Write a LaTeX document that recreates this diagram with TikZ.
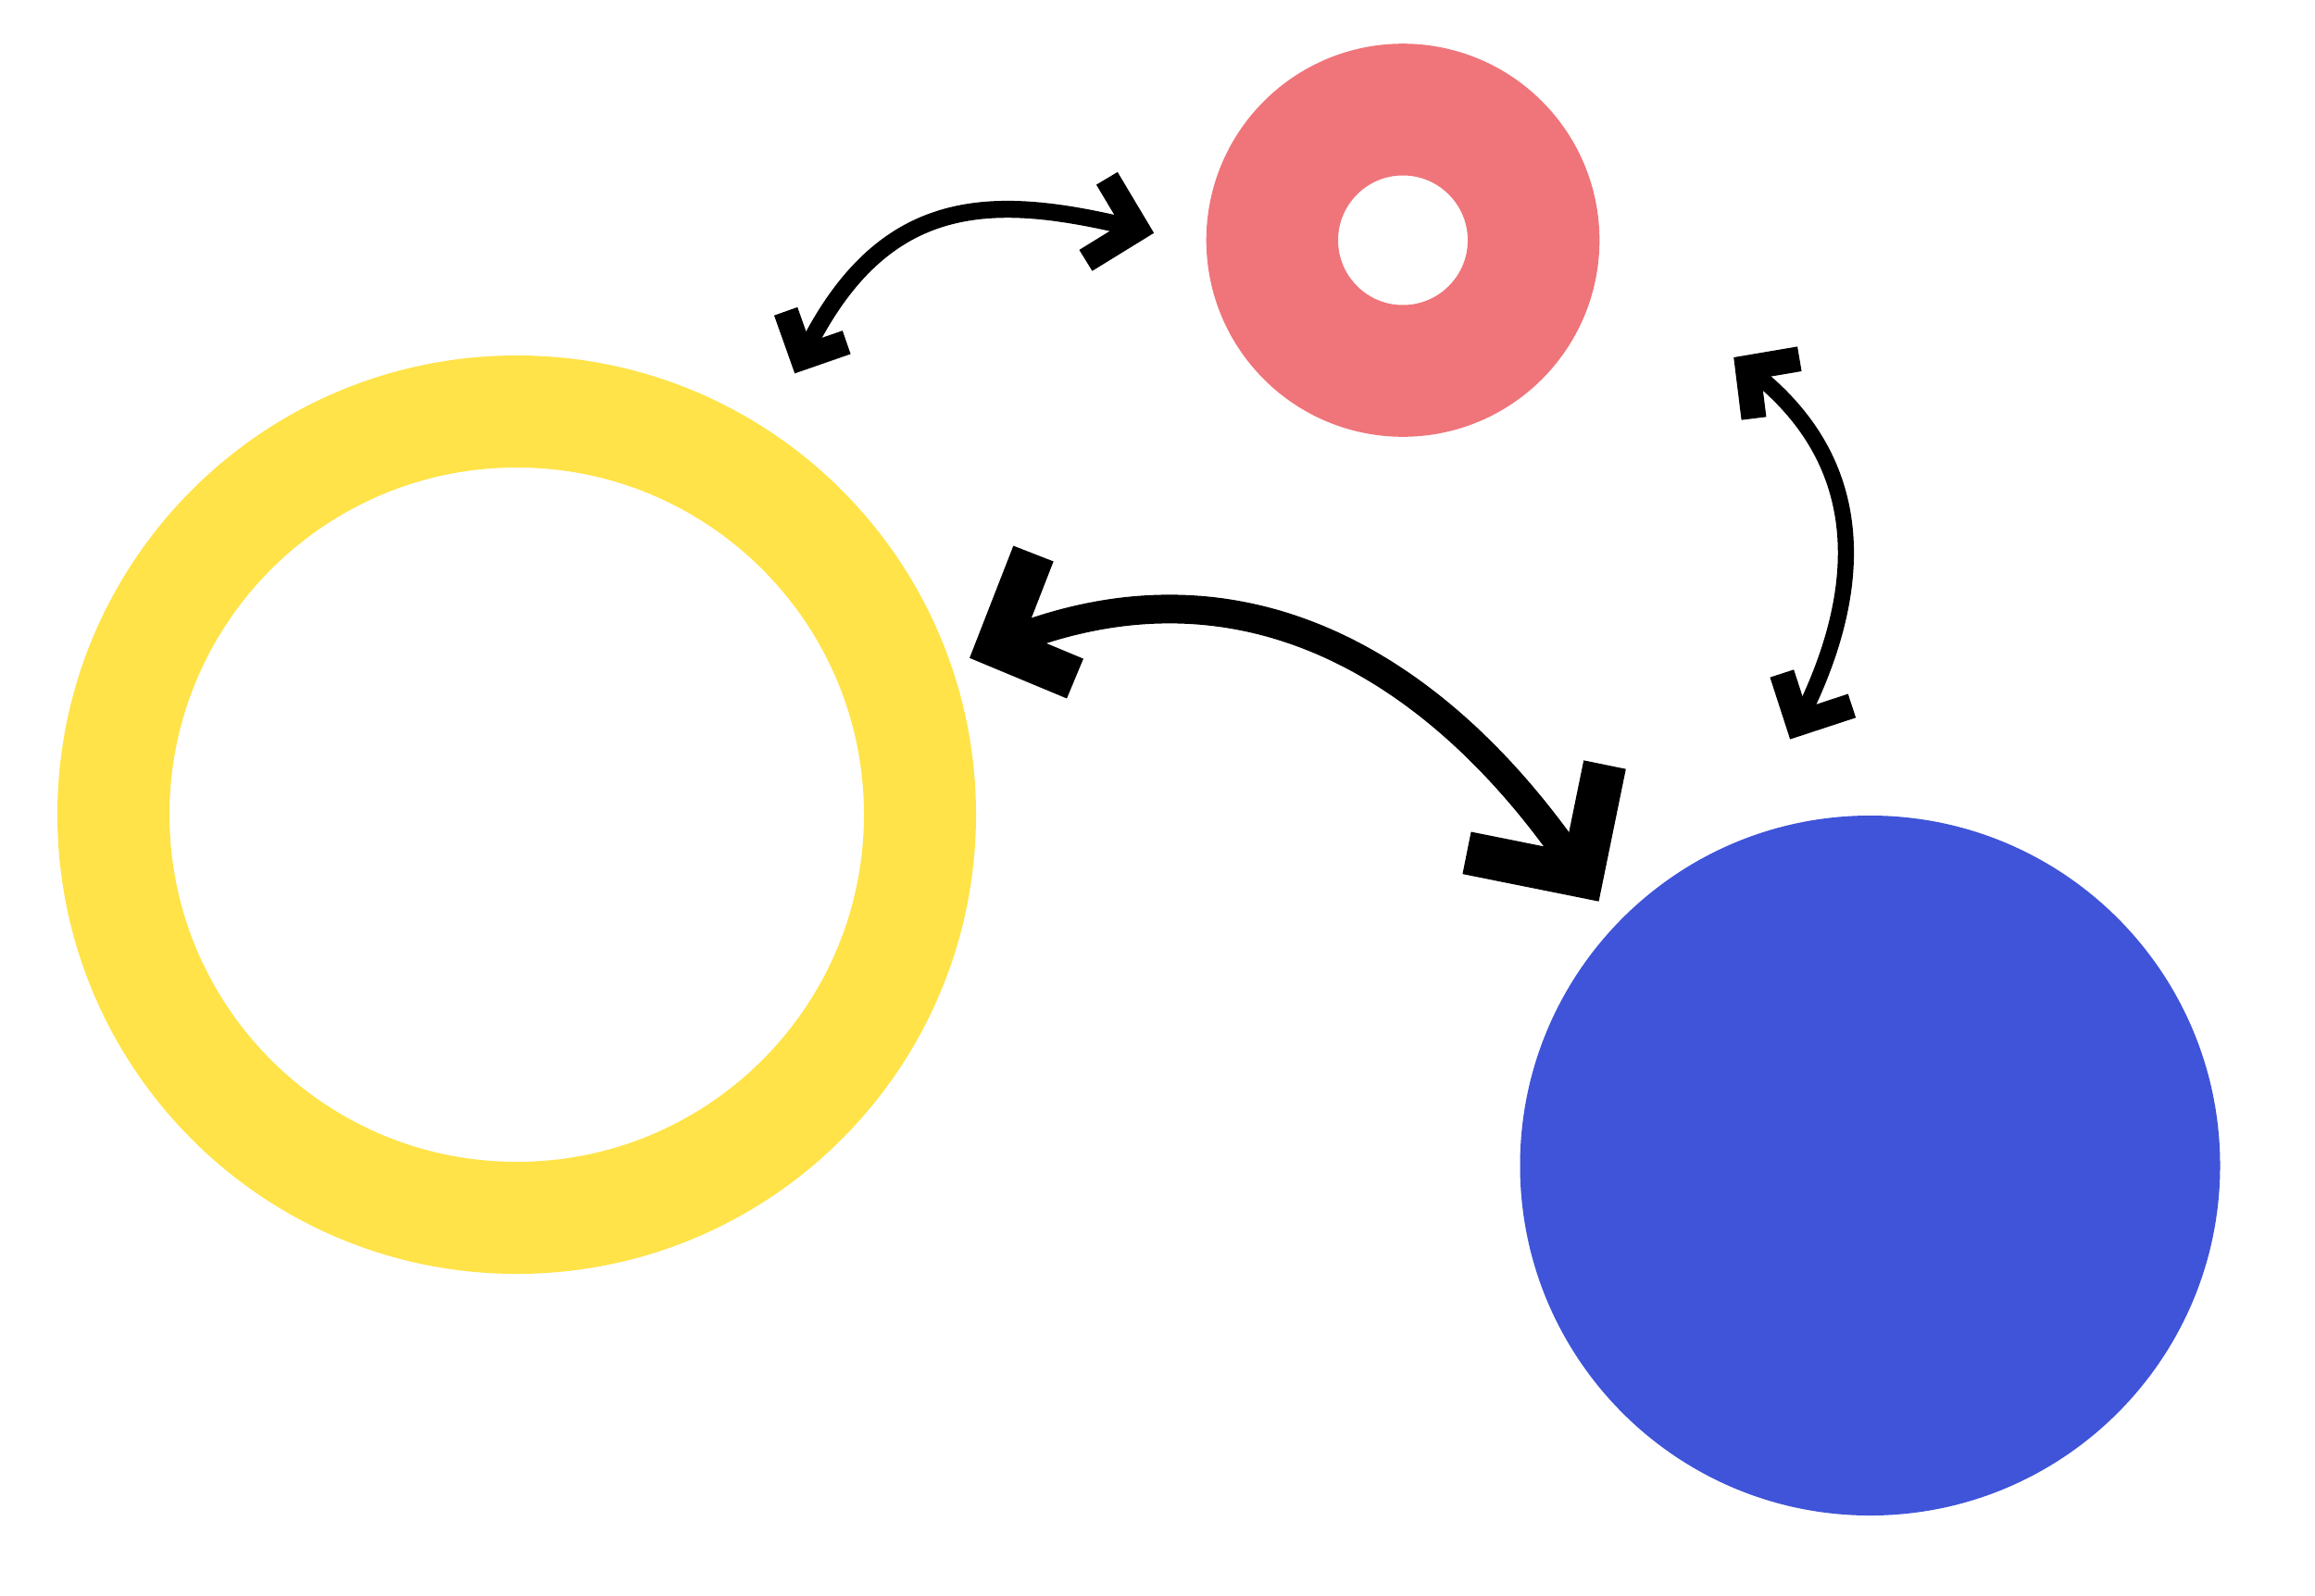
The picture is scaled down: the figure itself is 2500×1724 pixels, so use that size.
\documentclass[tikz,border=0pt]{standalone}
\definecolor{ringyellow}{RGB}{255,227,72}
\definecolor{ringpink}{RGB}{239,117,122}
\definecolor{diskblue}{RGB}{63,84,216}
\begin{document}
\begin{tikzpicture}[x=0.2mm,y=-0.2mm,
  ring/.style={circle,inner sep=0pt,outer sep=0pt},
  shaftline/.style={draw=black,line cap=butt,line join=round},
  barb/.style={draw=black,line cap=butt,line join=miter}]
\useasboundingbox (0,0) rectangle (2500,1724);
% circles
\node[ring,draw=ringyellow,line width=24.2mm,minimum size=174.2mm] (yellow) at (558,880) {};
\node[ring,draw=ringpink,line width=28.46mm,minimum size=56.46mm] (pink) at (1515,259.5) {};
\node[ring,fill=diskblue,minimum size=151.2mm] (blue) at (2019.5,1259) {};
% arrow yellow <-> pink
\coordinate (a1s) at (866.4,386.4);
\coordinate (a1sa) at (848.6,336.3);
\coordinate (a1sb) at (914.2,369.8);
\coordinate (a1e) at (1227.9,247.2);
\coordinate (a1ea) at (1195.4,192.7);
\coordinate (a1eb) at (1172.5,281.3);
\draw[shaftline,line width=3.66mm] (a1s) .. controls (952.4,205.6) and (1072.6,208.9) .. (a1e);
\draw[barb,line width=5.34mm] (a1sa) -- (a1s) -- (a1sb);
\draw[barb,line width=5.34mm] (a1ea) -- (a1e) -- (a1eb);
% arrow yellow <-> blue
\coordinate (a2s) at (1077,698);
\coordinate (a2sa) at (1116,598);
\coordinate (a2sb) at (1161,733);
\coordinate (a2e) at (1708.4,946.3);
\coordinate (a2ea) at (1733,826);
\coordinate (a2eb) at (1584,921.3);
\draw[shaftline,line width=6.2mm] (a2s) .. controls (1353,581) and (1570,737) .. (a2e);
\draw[barb,line width=9.3mm] (a2sa) -- (a2s) -- (a2sb);
\draw[barb,line width=9.3mm] (a2ea) -- (a2e) -- (a2eb);
% arrow pink <-> blue
\coordinate (a3s) at (1887.2,397.2);
\coordinate (a3sa) at (1943.3,387.7);
\coordinate (a3sb) at (1894,452);
\coordinate (a3e) at (1941.8,781.5);
\coordinate (a3ea) at (1924.3,727.5);
\coordinate (a3eb) at (1999.9,762.4);
\draw[shaftline,line width=3.46mm] (a3s) .. controls (2019,496) and (2017,635) .. (a3e);
\draw[barb,line width=5.4mm] (a3sa) -- (a3s) -- (a3sb);
\draw[barb,line width=5.4mm] (a3ea) -- (a3e) -- (a3eb);
\end{tikzpicture}
\end{document}
